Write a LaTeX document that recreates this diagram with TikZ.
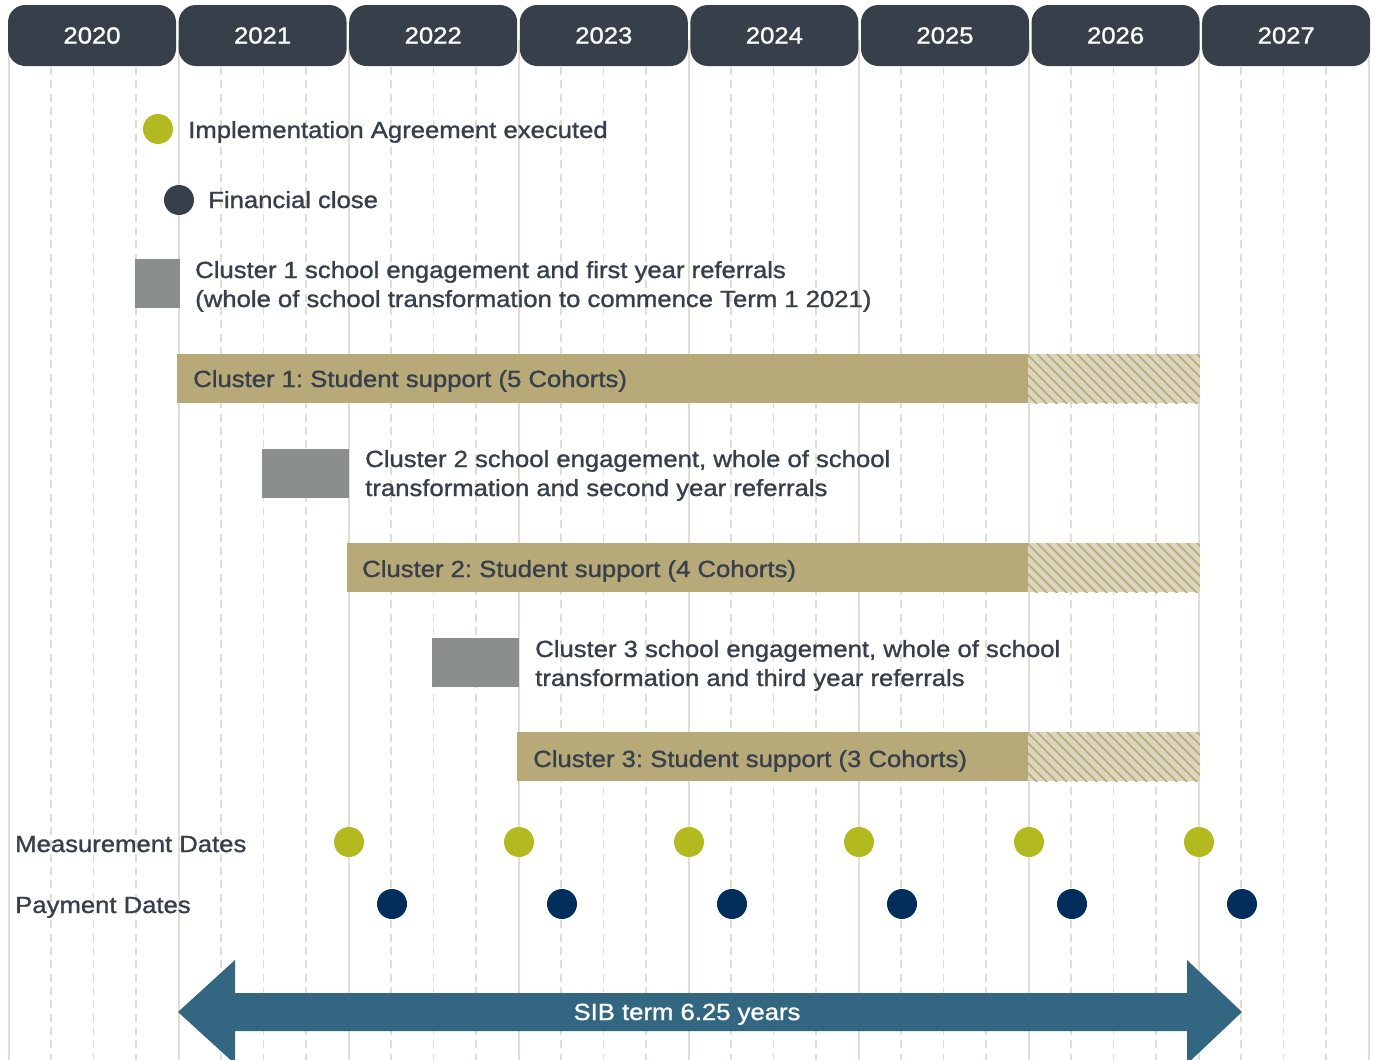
\documentclass[tikz,border=0pt]{standalone}
\usepackage{fontspec}
\setmainfont{Liberation Sans}[FakeStretch=1.1, FakeBold=1.2]
\usetikzlibrary{positioning}
\frenchspacing

\definecolor{slate}{HTML}{373F4A}
\definecolor{gridcol}{HTML}{E1DDD2}
\definecolor{limegreen}{HTML}{B3BA1F}
\definecolor{navyblue}{HTML}{022E5E}
\definecolor{stone}{HTML}{8A8F8D}
\definecolor{sand}{HTML}{B8AA78}
\definecolor{lightsand}{HTML}{DDD6BE}
\definecolor{termblue}{HTML}{336681}

\tikzset{
  yearbox/.style={fill=slate, text=white, rounded corners=13pt, minimum width=126pt, minimum height=45.75pt, inner sep=0pt},
  txt/.style={text=slate, inner sep=0pt, anchor=base west},
  dotnode/.style={circle, minimum size=22.5pt, inner sep=0pt},
  lime dot/.style={dotnode, fill=limegreen},
  slate dot/.style={dotnode, fill=slate},
  navy dot/.style={dotnode, fill=navyblue},
  gridline/.style={draw=gridcol, line width=1.5pt},
  quarterline/.style={draw=gridcol, line width=1.4pt, dash pattern=on 6pt off 4pt},
  hatchline/.style={draw=sand, line width=1.1pt}
}

\begin{document}
\begin{tikzpicture}[x=0.75pt, y=-0.75pt, font=\fontsize{17.5pt}{21.75pt}\selectfont]
    \useasboundingbox (0,0) rectangle (1379,1060);

    % Grid
    \foreach \k in {0,...,8}
        \draw[gridline] (8.5+170*\k, 40) -- (8.5+170*\k, 1060);
    \foreach \k in {0,...,7}
        \foreach \j in {1,2,3}
            \draw[quarterline] (8.5+170*\k+42.5*\j, 67) -- (8.5+170*\k+42.5*\j, 1060);

    % Years
    \foreach \yr [count=\k from 0] in {2020,...,2027}
        \node[yearbox] (y\yr) at (92+170.6*\k, 35.5) {\yr};

    % Legend
    \node[lime dot] (ia) at (158,129) {};
    \node[txt] (iatext) at (188,138) {Implementation Agreement executed};
    \node[slate dot] (fc) at (179,200) {};
    \node[txt] (fctext) at (208,208) {Financial close};

    % Cluster 1
    \fill[stone] (135,259) rectangle (180,308);
    \node[txt, align=left] (c1eng) at (195,307) {Cluster 1 school engagement and first year referrals\\(whole of school transformation to commence Term 1 2021)};
    \fill[sand] (177,354) rectangle (1028,403);
    \node[txt] (c1bar) at (193,387) {Cluster 1: Student support (5 Cohorts)};

    % Cluster 2
    \fill[stone] (262,449) rectangle (349,498);
    \node[txt, align=left] (c2eng) at (365,496) {Cluster 2 school engagement, whole of school\\transformation and second year referrals};
    \fill[sand] (347,543) rectangle (1028,592);
    \node[txt] (c2bar) at (362,577) {Cluster 2: Student support (4 Cohorts)};

    % Cluster 3
    \fill[stone] (432,638) rectangle (519,687);
    \node[txt, align=left] (c3eng) at (535,686) {Cluster 3 school engagement, whole of school\\transformation and third year referrals};
    \fill[sand] (517,732) rectangle (1028,781);
    \node[txt] (c3bar) at (533,767) {Cluster 3: Student support (3 Cohorts)};

    % Hatched tails
    \foreach \ybar in {354,543,732} {
        \begin{scope}
            \clip (1028,\ybar) rectangle (1200,\ybar+49);
            \fill[lightsand] (1028,\ybar) rectangle (1200,\ybar+49);
            \foreach \h in {0,...,23}
                \draw[hatchline] (975+10*\h,\ybar-2) -- ++(53,53);
        \end{scope}
    }

    % Dates
    \node[txt] (mlabel) at (15,852) {Measurement Dates};
    \node[txt] (plabel) at (15,913) {Payment Dates};
    \foreach \i in {0,...,5} {
        \node[lime dot] (m\i) at (349+170*\i, 842) {};
        \node[navy dot] (p\i) at (392+170*\i, 904) {};
    }

    % SIB term
    \fill[termblue] (178,1012) -- (235,960) -- (235,993) -- (1187,993) -- (1187,960) -- (1242,1012)
        -- (1187,1064) -- (1187,1031) -- (235,1031) -- (235,1064) -- cycle;
    \node[txt, text=white, anchor=base] (term) at (687,1020) {SIB term 6.25 years};

\end{tikzpicture}
\end{document}
